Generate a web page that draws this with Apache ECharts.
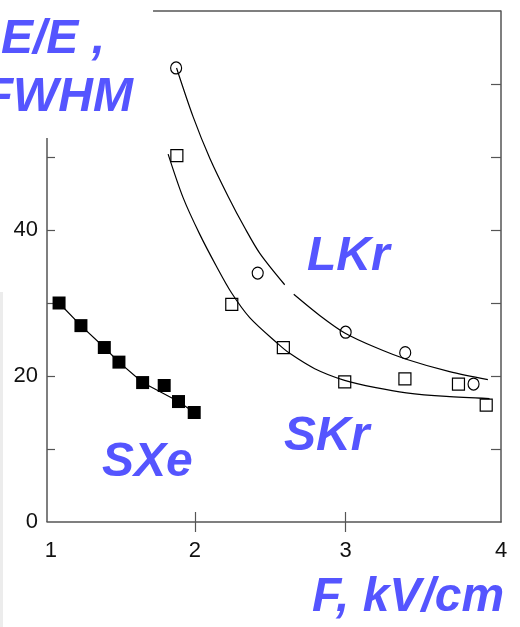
<!DOCTYPE html>
<html>
<head>
<meta charset="utf-8">
<script src="https://cdn.jsdelivr.net/npm/echarts@6/dist/echarts.min.js"></script>
<style>
  html, body { margin: 0; padding: 0; background: #fff; }
  #main { width: 520px; height: 627px; }
</style>
</head>
<body>
<div id="main"></div>
<script>
// SXe, filled squares
var sxeF = [1.10, 1.245, 1.40, 1.497, 1.654, 1.797, 1.892, 1.996];
var sxeRes = [30.0, 26.9, 23.9, 21.9, 19.1, 18.7, 16.5, 15.0];
// SKr, open squares
var skrF = [1.881, 2.245, 2.587, 2.994, 3.393, 3.748, 3.932];
var skrRes = [50.2, 29.8, 23.9, 19.2, 19.6, 18.9, 16.0];
// LKr, open circles
var lkrF = [1.876, 2.417, 3.0, 3.395, 3.848];
var lkrRes = [62.2, 34.1, 26.0, 23.2, 18.9];

// fitted curves
var sxeFitF = [1.10, 1.245, 1.40, 1.497, 1.654, 1.892, 1.996];
var sxeFitRes = [30.0, 26.9, 23.9, 21.9, 19.1, 16.5, 15.0];
var skrFitF = [1.823, 1.923, 2.033, 2.144, 2.243, 2.364, 2.552, 2.629, 2.795, 2.993, 3.2, 3.402, 3.667, 3.954];
var skrFitRes = [50.4, 44.4, 39.4, 35.0, 31.4, 28.0, 24.4, 23.1, 21.0, 19.4, 18.4, 17.7, 17.2, 16.9];
// null = the little break in the LKr curve
var lkrFitF = [1.879, 1.989, 2.1, 2.221, 2.331, 2.431, 2.596, 2.626, 2.656, 2.828, 2.994, 3.2, 3.402, 3.689, 3.943];
var lkrFitRes = [62.2, 55.5, 49.8, 44.6, 40.3, 36.8, 32.5, null, 31.2, 28.3, 25.9, 23.9, 22.3, 20.6, 19.5];

// ticks
var xTicks = [2, 3];
var xLabelVals = [1.045, 2, 3, 4.03];
var yTicksLeft = [10, 20, 30, 40, 50];
var yLabelVals = [0, 20, 40];
var yTicksRight = [10, 20, 30, 40, 50, 60];

function pairs(xs, ys) {
  var out = [];
  for (var i = 0; i < xs.length; i++) {
    out.push([xs[i], ys[i] === null ? '-' : ys[i]]);
  }
  return out;
}

var axisCol = '#555';
var blue = '#5555ff';
var bigFont = 'italic bold 48px "Liberation Sans", Arial, sans-serif';
var tickFont = '"Liberation Sans", Arial, sans-serif';

var myChart = echarts.init(document.getElementById('main'), null, { renderer: 'canvas' });

var option = {
  animation: false,
  backgroundColor: '#fff',
  grid: { left: 47, right: 19, top: 11, bottom: 105, containLabel: false },
  xAxis: [
    {
      type: 'value', position: 'bottom', min: 1.02, max: 4.03,
      axisLine: { show: true, lineStyle: { color: axisCol, width: 1.5 } },
      axisTick: { show: true, inside: true, length: 10, customValues: xTicks, lineStyle: { color: axisCol, width: 1.2 } },
      axisLabel: {
        show: true, customValues: xLabelVals, margin: 18,
        color: '#111', fontSize: 22, fontFamily: tickFont,
        formatter: function (v) { return Math.round(v); }
      },
      splitLine: { show: false }
    },
    {
      type: 'value', position: 'top', min: 1.02, max: 4.03,
      axisLine: { show: false },
      axisTick: { show: true, inside: true, length: 10, customValues: xTicks, lineStyle: { color: axisCol, width: 1.2 } },
      axisLabel: { show: false },
      splitLine: { show: false }
    }
  ],
  yAxis: [
    {
      type: 'value', position: 'left', min: 0, max: 70,
      axisLine: { show: false },
      axisTick: { show: true, inside: true, length: 8, customValues: yTicksLeft, lineStyle: { color: axisCol, width: 1.2 } },
      axisLabel: {
        show: true, customValues: yLabelVals, margin: 9,
        color: '#111', fontSize: 22, fontFamily: tickFont
      },
      splitLine: { show: false }
    },
    {
      type: 'value', position: 'right', min: 0, max: 70,
      axisLine: { show: true, lineStyle: { color: axisCol, width: 1.5 } },
      axisTick: { show: true, inside: true, length: 10, customValues: yTicksRight, lineStyle: { color: axisCol, width: 1.2 } },
      axisLabel: { show: false },
      splitLine: { show: false }
    }
  ],
  graphic: [
    { type: 'rect', shape: { x: 0, y: 292, width: 3, height: 335 }, style: { fill: '#ececec' } },
    { type: 'text', x: 1, y: 40, style: { text: 'E/E ,', font: bigFont, fill: blue, verticalAlign: 'middle' } },
    { type: 'text', x: 133, y: 98, style: { text: 'FWHM', font: bigFont, fill: blue, align: 'right', verticalAlign: 'middle' } },
    { type: 'text', x: 307, y: 257, style: { text: 'LKr', font: bigFont, fill: blue, verticalAlign: 'middle' } },
    { type: 'text', x: 284, y: 437, style: { text: 'SKr', font: bigFont, fill: blue, verticalAlign: 'middle' } },
    { type: 'text', x: 102, y: 463, style: { text: 'SXe', font: bigFont, fill: blue, verticalAlign: 'middle' } },
    { type: 'text', x: 312, y: 598, style: { text: 'F, kV/cm', font: bigFont, fill: blue, verticalAlign: 'middle' } }
  ],
  series: [
    {
      name: 'SXe fit', type: 'line', data: pairs(sxeFitF, sxeFitRes),
      showSymbol: false, silent: true,
      lineStyle: { color: '#000', width: 1.2 },
      // partial frame lines: top edge and left axis
      markLine: {
        silent: true, symbol: 'none', label: { show: false },
        lineStyle: { color: axisCol, width: 1.5, type: 'solid' },
        data: [
          [{ coord: [1.723, 70] }, { coord: [4.03, 70] }],
          [{ coord: [1.02, 0] }, { coord: [1.02, 52.6] }]
        ]
      }
    },
    {
      name: 'SKr fit', type: 'line', data: pairs(skrFitF, skrFitRes),
      showSymbol: false, silent: true, smooth: 0.3,
      lineStyle: { color: '#000', width: 1.2 }
    },
    {
      name: 'LKr fit', type: 'line', data: pairs(lkrFitF, lkrFitRes),
      showSymbol: false, silent: true, smooth: 0.3, connectNulls: false,
      lineStyle: { color: '#000', width: 1.2 }
    },
    {
      name: 'SXe', type: 'scatter', data: pairs(sxeF, sxeRes),
      symbol: 'rect', symbolSize: 13,
      itemStyle: { color: '#000', opacity: 1 }
    },
    {
      name: 'SKr', type: 'scatter', data: pairs(skrF, skrRes),
      symbol: 'rect', symbolSize: 12,
      itemStyle: { color: 'rgba(0,0,0,0)', borderColor: '#000', borderWidth: 1.2, opacity: 1 }
    },
    {
      name: 'LKr', type: 'scatter', data: pairs(lkrF, lkrRes),
      symbol: 'circle', symbolSize: [11, 12],
      itemStyle: { color: 'rgba(0,0,0,0)', borderColor: '#000', borderWidth: 1.2, opacity: 1 }
    }
  ]
};

myChart.setOption(option);
</script>
</body>
</html>
